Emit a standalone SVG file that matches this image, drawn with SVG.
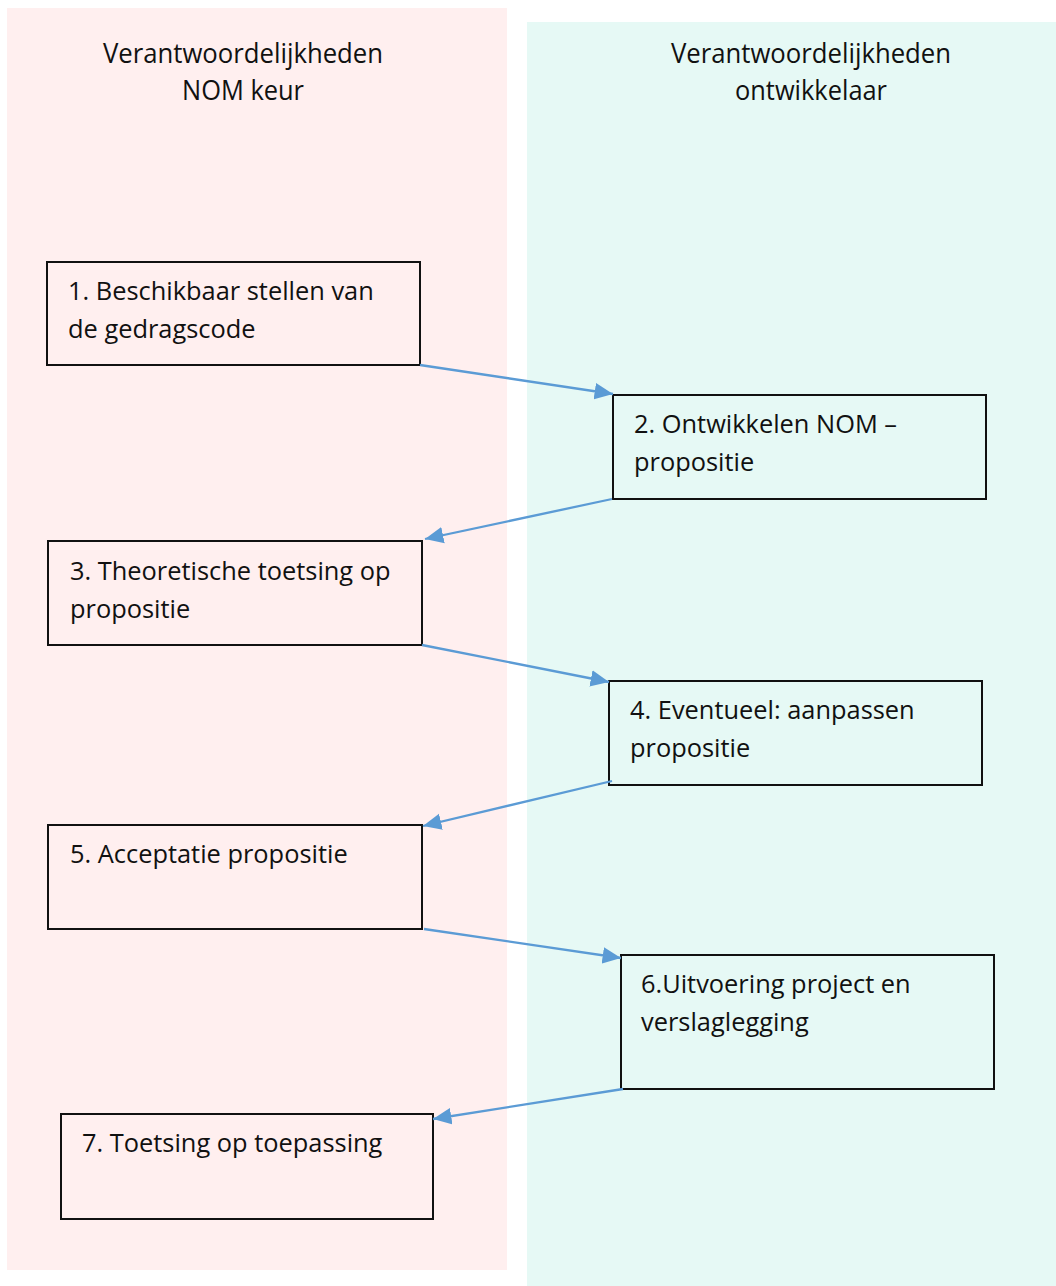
<svg xmlns="http://www.w3.org/2000/svg" width="1056" height="1286" viewBox="0 0 1056 1286">
<defs>
<marker id="ah" viewBox="0 0 10 10" refX="10" refY="5" markerWidth="8" markerHeight="8" orient="auto" markerUnits="strokeWidth">
<path d="M0,0.5 L10,5 L0,9.5 z" fill="#5B9BD5"/>
</marker>
<style>
.box{fill:none;stroke:#111;stroke-width:2}
.t{font-family:"Open Sans",sans-serif;font-size:25.4px;fill:#111}
.h{font-family:"Open Sans",sans-serif;font-size:27px;fill:#111;text-anchor:middle}
.c{stroke:#5B9BD5;stroke-width:2.3;fill:none;marker-end:url(#ah)}
</style>
</defs>
<rect width="1056" height="1286" fill="#fff"/>
<rect x="7" y="8" width="500" height="1262" fill="#FFEFEF"/>
<rect x="527" y="22" width="529" height="1264" fill="#E6F9F5"/>
<text class="h" x="243" y="63" textLength="280" lengthAdjust="spacingAndGlyphs">Verantwoordelijkheden</text>
<text class="h" x="243" y="100" textLength="122" lengthAdjust="spacingAndGlyphs">NOM keur</text>
<text class="h" x="811" y="63" textLength="280" lengthAdjust="spacingAndGlyphs">Verantwoordelijkheden</text>
<text class="h" x="811" y="100" textLength="152" lengthAdjust="spacingAndGlyphs">ontwikkelaar</text>
<g id="n1"><rect class="box" x="47" y="262" width="373" height="103"/><text class="t" x="68" y="300">1. Beschikbaar stellen van</text><text class="t" x="68" y="338">de gedragscode</text></g>
<g id="n2"><rect class="box" x="613" y="395" width="373" height="104"/><text class="t" x="634" y="433">2. Ontwikkelen NOM –</text><text class="t" x="634" y="471">propositie</text></g>
<g id="n3"><rect class="box" x="48" y="541" width="374" height="104"/><text class="t" x="70" y="580">3. Theoretische toetsing op</text><text class="t" x="70" y="618">propositie</text></g>
<g id="n4"><rect class="box" x="609" y="681" width="373" height="104"/><text class="t" x="630" y="719">4. Eventueel: aanpassen</text><text class="t" x="630" y="757">propositie</text></g>
<g id="n5"><rect class="box" x="48" y="825" width="374" height="104"/><text class="t" x="70" y="863">5. Acceptatie propositie</text></g>
<g id="n6"><rect class="box" x="621" y="955" width="373" height="134"/><text class="t" x="641" y="993">6.Uitvoering project en</text><text class="t" x="641" y="1031">verslaglegging</text></g>
<g id="n7"><rect class="box" x="61" y="1114" width="372" height="105"/><text class="t" x="82" y="1152">7. Toetsing op toepassing</text></g>
<g id="connectors">
<line class="c" x1="420" y1="365" x2="613" y2="394"/>
<line class="c" x1="612" y1="499" x2="425" y2="539"/>
<line class="c" x1="422" y1="645" x2="609" y2="682"/>
<line class="c" x1="612" y1="781" x2="423" y2="826"/>
<line class="c" x1="424" y1="929" x2="621" y2="958"/>
<line class="c" x1="623" y1="1089" x2="433" y2="1119"/>
</g>
</svg>
